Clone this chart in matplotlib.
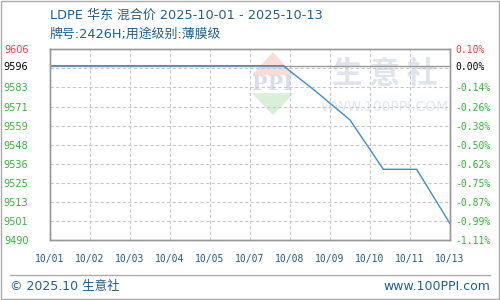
import numpy as np
import matplotlib
matplotlib.use("Agg")
import matplotlib.pyplot as plt
from matplotlib.patches import Polygon, Rectangle
from matplotlib.lines import Line2D

plt.rcParams['font.family'] = ['DejaVu Sans', 'Noto Sans CJK SC']

# ---- data ----
days = ["10/01", "10/02", "10/03", "10/04", "10/05", "10/06", "10/07",
        "10/08", "10/09", "10/10", "10/11", "10/12", "10/13"]
prices = [9596, 9596, 9596, 9596, 9596, 9596, 9596,
          9596, 9580, 9563, 9533, 9533, 9500]
x_labels = ["10/01", "10/02", "10/03", "10/04", "10/05", "10/07",
            "10/08", "10/09", "10/10", "10/11", "10/13"]
left_labels = ["9606", "9596", "9583", "9571", "9559", "9548",
               "9536", "9525", "9513", "9501", "9490"]
right_labels = ["0.10%", "0.00%", "-0.14%", "-0.26%", "-0.38%", "-0.50%",
                "-0.62%", "-0.75%", "-0.87%", "-0.99%", "-1.11%"]
base = 9596
ymin, ymax = 9490, 9606

title = "LDPE 华东 混合价 2025-10-01 - 2025-10-13"
subtitle = "牌号:2426H;用途级别:薄膜级"

blue_txt = "#1f5f8f"
line_c = "#3a8fd0"
red = "#f03c3c"
green = "#33b533"

fig = plt.figure(figsize=(5, 3), dpi=100)
ax = fig.add_axes([0.1, 0.2, 0.8, 0.6357])

xd = np.arange(len(days))
ax.set_xlim(0, len(days) - 1)
ax.set_ylim(ymin, ymax)

# grid
grid_y = np.linspace(ymin, ymax, 11)
grid_x = np.linspace(0, len(days) - 1, len(x_labels))
for gy in grid_y[1:-1]:
    ax.axhline(gy, color="#c8c8c8", lw=0.8, ls=(0, (3, 2)), zorder=1)
for gx in grid_x[1:-1]:
    ax.axvline(gx, color="#c8c8c8", lw=0.8, ls=(0, (3, 2)), zorder=1)
ax.axhline(base, color="#999999", lw=1.0, zorder=2)

# watermark
wm = dict(transform=ax.transAxes, zorder=0)
ax.add_patch(Polygon([[0.5575, 0.985], [0.61, 0.865], [0.505, 0.865]],
                     closed=True, fc="#f8dcd6", ec="none", **wm))
ax.add_patch(Polygon([[0.505, 0.77], [0.61, 0.77], [0.5575, 0.655]],
                     closed=True, fc="#d8efd8", ec="none", **wm))
ax.text(0.5575, 0.82, "PPI", ha="center", va="center", fontsize=15,
        fontweight="bold", color="#d7deeb", family="DejaVu Serif", **wm)
ax.text(0.8375, 0.87, "生 意 社", ha="center", va="center", fontsize=22,
        color="#dfe3ec", family=["Noto Sans CJK SC"], fontweight="bold", **wm)
ax.text(0.8375, 0.695, "WWW.100PPI.COM", ha="center", va="center", fontsize=10,
        color="#e3e6ec", **wm)

ax.plot(xd, prices, color=line_c, lw=1.0, zorder=3)

# ticks
ax.set_xticks(grid_x)
ax.set_xticklabels(x_labels, fontsize=7, color=blue_txt, family="DejaVu Sans Mono")
ax.tick_params(axis="x", length=0, pad=10)

left_pos = [ymax, base] + list(grid_y[::-1][2:])
ax.set_yticks(left_pos)
ax.set_yticklabels(left_labels, fontsize=7)
ax.tick_params(axis="y", length=0, pad=15.5)
for i, t in enumerate(ax.get_yticklabels()):
    t.set_color(red if i == 0 else ("black" if i == 1 else green))

ax2 = ax.twinx()
ax2.set_ylim(ymin, ymax)
ax2.set_yticks(left_pos)
ax2.set_yticklabels(right_labels, fontsize=7, family="DejaVu Sans Mono")
ax2.tick_params(axis="y", length=0, pad=4)
for i, t in enumerate(ax2.get_yticklabels()):
    t.set_color(red if i == 0 else ("black" if i == 1 else green))

for a in (ax, ax2):
    for s in a.spines.values():
        s.set_color("#999999")
        s.set_linewidth(1.0)

# titles
fig.text(0.1, 0.950, title, fontsize=9.3, color=blue_txt, ha="left", va="center")
fig.text(0.1, 0.887, subtitle, fontsize=9.3, color=blue_txt, ha="left", va="center")

# footer
fig.add_artist(Line2D([0.02, 0.98], [0.083, 0.083], color="#aaaaaa", lw=1.0,
                      transform=fig.transFigure))
fig.text(0.02, 0.045, "© 2025.10 生意社", fontsize=9, color=blue_txt,
         ha="left", va="center")
fig.text(0.98, 0.045, "www.100PPI.com", fontsize=9, color=blue_txt,
         ha="right", va="center")

fig.add_artist(Rectangle((0.001, 0.002), 0.997, 0.995, fill=False,
                         ec="#aaaaaa", lw=1.0, transform=fig.transFigure))

fig.savefig("out.png", dpi=100)
